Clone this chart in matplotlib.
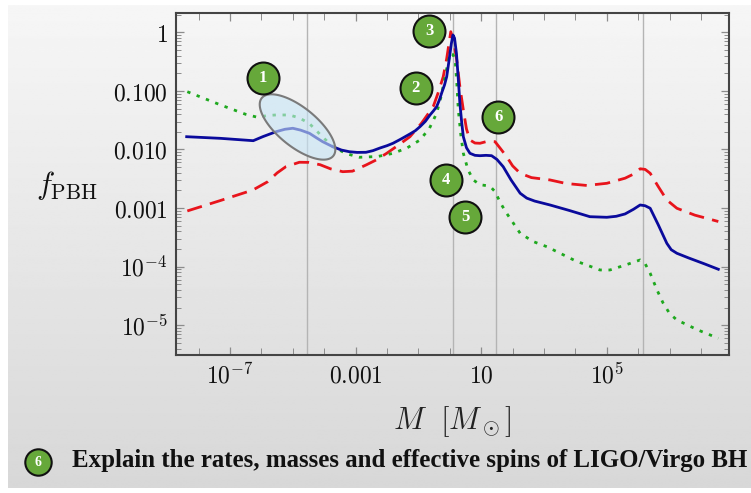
import numpy as np
import matplotlib
matplotlib.use("Agg")
import matplotlib.pyplot as plt
from matplotlib.ticker import FixedLocator, FixedFormatter, NullFormatter

plt.rcParams["mathtext.fontset"] = "cm"

# ---- curve data (log10 M [M_sun], log10 f_PBH) ----
log_m_blue = [-8.38, -7.3, -6.26, -5.95, -5.53, -5.25, -5.00, -4.75, -4.47, -4.25,
              -4.05, -3.73, -3.45, -3.20, -2.95, -2.67, -2.45, -2.22, -2.00, -1.81,
              -1.55, -1.27, -1.10, -0.95, -0.78, -0.63, -0.52, -0.42, -0.33, -0.25,
              -0.17, -0.10, -0.03, 0.05, 0.10, 0.15, 0.21, 0.27, 0.32, 0.38,
              0.43, 0.53, 0.64, 0.80, 0.96, 1.15, 1.33, 1.50, 1.70, 1.95,
              2.24, 2.45, 2.70, 3.19, 3.80, 4.46, 5.00, 5.30, 5.58, 5.85,
              6.06, 6.22, 6.38, 6.64, 6.91, 7.05, 7.23, 7.60, 8.10, 8.55]
log_f_blue = [-1.782, -1.81, -1.850, -1.78, -1.696, -1.655, -1.638, -1.67, -1.724, -1.80,
              -1.867, -1.952, -2.01, -2.038, -2.05, -2.048, -2.02, -1.974, -1.935, -1.894,
              -1.82, -1.735, -1.68, -1.611, -1.52, -1.41, -1.34, -1.270, -1.15, -1.02,
              -0.90, -0.758, -0.50, -0.188, -0.046, -0.10, -0.358, -0.80, -1.212, -1.55,
              -1.782, -1.97, -2.065, -2.10, -2.106, -2.10, -2.106, -2.17, -2.294, -2.52,
              -2.747, -2.83, -2.88, -2.947, -3.04, -3.147, -3.157, -3.14, -3.10, -3.02,
              -2.947, -2.96, -3.003, -3.288, -3.601, -3.71, -3.771, -3.85, -3.95, -4.044]

log_m_red = [-8.36, -7.30, -6.27, -5.80, -5.50, -5.22, -4.79, -4.50, -4.13, -3.80,
             -3.41, -3.10, -2.67, -2.35, -2.01, -1.65, -1.27, -0.90, -0.53, -0.37,
             -0.21, -0.10, 0.03, 0.12, 0.22, 0.32, 0.43, 0.53, 0.64, 0.80,
             0.96, 1.20, 1.44, 1.62, 1.81, 2.00, 2.24, 2.60, 3.19, 3.70,
             4.36, 5.00, 5.58, 5.85, 6.06, 6.22, 6.38, 6.64, 6.91, 7.23,
             7.80, 8.55]
log_f_red = [-3.049, -2.87, -2.691, -2.55, -2.40, -2.293, -2.218, -2.22, -2.26, -2.33,
             -2.379, -2.37, -2.265, -2.18, -2.065, -1.93, -1.782, -1.55, -1.270, -1.03,
             -0.758, -0.45, 0.010, -0.15, -0.473, -0.93, -1.326, -1.65, -1.838, -1.89,
             -1.894, -1.86, -1.867, -1.99, -2.123, -2.28, -2.406, -2.48, -2.520, -2.58,
             -2.614, -2.577, -2.49, -2.42, -2.329, -2.34, -2.406, -2.635, -2.862, -3.003,
             -3.12, -3.229]

log_m_green = [-8.36, -7.30, -6.50, -6.12, -5.80, -5.54, -5.11, -4.80, -4.48, -4.10,
               -3.73, -3.30, -2.88, -2.30, -1.80, -1.35, -0.95, -0.65, -0.42, -0.28,
               -0.15, -0.06, 0.01, 0.10, 0.17, 0.22, 0.27, 0.35, 0.43, 0.58,
               0.75, 0.95, 1.18, 1.32, 1.44, 1.62, 1.81, 2.24, 2.65, 3.09,
               4.00, 4.78, 5.10, 5.60, 6.06, 6.22, 6.38, 6.60, 6.79, 7.00,
               7.23, 7.90, 8.55]
log_f_green = [-1.014, -1.24, -1.40, -1.451, -1.42, -1.411, -1.411, -1.46, -1.553, -1.76,
               -1.952, -2.07, -2.133, -2.12, -2.065, -1.97, -1.838, -1.64, -1.382, -1.10,
               -0.758, -0.52, -0.358, -0.38, -0.473, -0.85, -1.326, -1.75, -2.065, -2.35,
               -2.520, -2.60, -2.618, -2.65, -2.720, -2.92, -3.089, -3.430, -3.57, -3.659,
               -3.90, -4.056, -4.056, -3.97, -3.885, -3.95, -4.113, -4.40, -4.619, -4.80,
               -4.909, -5.08, -5.222]

# thermal-history transitions (vertical guide lines)
log_m_transitions = [-4.54, 0.10, 1.46, 6.15]

# axis ticks
x_label_exps = [-7, -3, 1, 5]
x_tick_labels = [r"$10^{-7}$", r"$0.001$", r"$10$", r"$10^{5}$"]
y_tick_exps = [0, -1, -2, -3, -4, -5]
y_tick_labels = [r"$1$", r"$0.100$", r"$0.010$", r"$0.001$", r"$10^{-4}$", r"$10^{-5}$"]

# numbered markers (log10 M, log10 f)
badge_labels = ["1", "2", "3", "4", "5", "6"]
badge_logm = [-5.96, -1.086, -0.653, -0.121, 0.484, 1.545]
badge_logf = [-0.775, -0.956, 0.022, -2.520, -3.147, -1.440]

W, H = 751, 493
fig = plt.figure(figsize=(W / 100, H / 100), dpi=100)
fig.patch.set_facecolor("white")

# grey gradient backdrop
bg = fig.add_axes([8 / W, 1 - 488 / H, 1 - 8 / W, (488 - 5) / H], zorder=-10)
grad = np.linspace(0.965, 0.845, 256)[:, None] * np.ones((1, 2))
bg.imshow(grad, cmap="gray", vmin=0, vmax=1, aspect="auto", extent=[0, 1, 0, 1])
bg.set_axis_off()

ax = fig.add_axes([176 / W, 1 - 355 / H, (729 - 176) / W, (355 - 13) / H])
ax.patch.set_alpha(0)
ax.set_xscale("log")
ax.set_yscale("log")
ax.set_xlim(10 ** -8.72, 10 ** 8.89)
ax.set_ylim(10 ** -5.507, 10 ** 0.329)

for lm in log_m_transitions:
    ax.axvline(10 ** lm, color="#b4b4b4", lw=1.0, zorder=1)

ax.plot(10 ** np.array(log_m_red), 10 ** np.array(log_f_red), color="#e8141c",
        lw=2.0, dashes=(5.5, 3), zorder=3)
ax.plot(10 ** np.array(log_m_green), 10 ** np.array(log_f_green), color="#1ea81e",
        lw=2.0, dashes=(1.2, 2.4), zorder=3)
ax.plot(10 ** np.array(log_m_blue), 10 ** np.array(log_f_blue), color="#0a0a9c",
        lw=2.0, zorder=4, solid_joinstyle="round")

# highlight ellipse around the low-mass feature (built in screen units)
px_per_dec_x = (729 - 176) / (8.89 + 8.72)
px_per_dec_y = (355 - 13) / (0.329 + 5.507)
t = np.linspace(0, 2 * np.pi, 200)
a_px, b_px, ang = 46.0, 19.5, np.deg2rad(-39)
ex = a_px * np.cos(t) * np.cos(ang) - b_px * np.sin(t) * np.sin(ang)
ey = a_px * np.cos(t) * np.sin(ang) + b_px * np.sin(t) * np.cos(ang)
cx_log, cy_log = -4.85, -1.616
ax.fill(10 ** (cx_log + ex / px_per_dec_x), 10 ** (cy_log + ey / px_per_dec_y),
        facecolor=(0.78, 0.90, 0.97, 0.6), edgecolor="#7a7a7a", lw=1.5, zorder=5)

# numbered green badges
for lab, lm, lf in zip(badge_labels, badge_logm, badge_logf):
    ax.plot(10 ** lm, 10 ** lf, "o", ms=23, mfc="#66a83a", mec="#111111", mew=1.5,
            zorder=6, clip_on=False)
    ax.text(10 ** lm, 10 ** lf, lab, color="white", fontsize=12, fontweight="bold",
            family="Liberation Serif", ha="center", va="center", zorder=7)

# ticks
ax.xaxis.set_major_locator(FixedLocator([10.0 ** e for e in x_label_exps]))
ax.xaxis.set_major_formatter(FixedFormatter(x_tick_labels))
ax.xaxis.set_minor_locator(FixedLocator([10.0 ** e for e in range(-8, 9)]))
ax.xaxis.set_minor_formatter(NullFormatter())
ax.yaxis.set_major_locator(FixedLocator([10.0 ** e for e in y_tick_exps]))
ax.yaxis.set_major_formatter(FixedFormatter(y_tick_labels))
ax.yaxis.set_minor_locator(FixedLocator([k * 10.0 ** e for e in range(-6, 1) for k in range(2, 10)]))
ax.yaxis.set_minor_formatter(NullFormatter())

ax.tick_params(which="both", direction="in", top=True, right=True, color="#8c8c8c")
ax.tick_params(which="major", length=6, width=0.9, labelsize=17, pad=6, labelcolor="#111111")
ax.tick_params(which="minor", length=3.5, width=0.7)
ax.tick_params(axis="x", which="minor", length=5)
for s in ax.spines.values():
    s.set_color("#444444")
    s.set_linewidth(1.5)

# axis titles
fig.text(67 / W, 1 - 186 / H, r"$f_{\rm PBH}$", fontsize=22, ha="center", va="center",
         color="#111111")
fig.text(452 / W, 1 - 422 / H, r"$M\ \ [M_\odot]$", fontsize=22, ha="center", va="center",
         color="#222222")

# caption with badge
fig.add_artist(plt.Line2D([38 / W], [1 - 462 / H], marker="o", ms=19, mfc="#66a83a",
                          mec="#111111", mew=1.5, transform=fig.transFigure))
fig.text(38 / W, 1 - 462 / H, "6", color="white", fontsize=10, fontweight="bold",
         family="Liberation Serif", ha="center", va="center")
fig.text(72 / W, 1 - 461 / H, "Explain the rates, masses and effective spins of LIGO/Virgo BH",
         fontsize=17.9, fontweight="bold", family="Liberation Serif", ha="left", va="center",
         color="#111111")

fig.savefig("out.png", dpi=100, facecolor=fig.get_facecolor())
